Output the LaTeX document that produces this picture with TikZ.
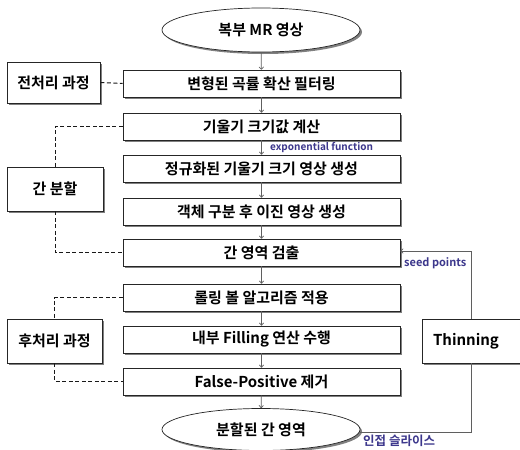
\documentclass[tikz,border=0pt]{standalone}
\usepackage{fontspec}
\setmainfont{Noto Sans CJK KR}[BoldFont={Noto Sans CJK KR Bold}]
\usetikzlibrary{shapes.geometric,shadows,arrows.meta}
\definecolor{lbl}{RGB}{60,55,140}
\definecolor{arr}{RGB}{95,95,95}
\tikzset{
  mainbox/.style={draw=black!85, line width=0.7pt, fill=white, minimum width=277pt, minimum height=27pt, inner sep=0pt,
    font=\bfseries\fontsize{15}{16}\selectfont,
    drop shadow={shadow xshift=2pt, shadow yshift=-2pt, fill=black!50, opacity=1}},
  sidebox/.style={mainbox, minimum height=44pt},
  oval/.style={ellipse, draw=black!85, line width=0.7pt, fill=white, inner sep=0pt, minimum width=198pt, minimum height=44pt,
    font=\bfseries\fontsize{15}{16}\selectfont,
    drop shadow={shadow xshift=2pt, shadow yshift=-2pt, fill=black!50, opacity=1}},
  flow/.style={draw=arr, line width=0.7pt, -{To[length=3pt,width=5pt]}},
  plain/.style={draw=arr, line width=0.7pt},
  dashline/.style={draw=black!90, line width=1pt, dash pattern=on 4pt off 2.5pt},
  lab/.style={text=lbl, font=\bfseries\fontsize{10}{11}\selectfont, inner sep=0pt}
}
\begin{document}
\begin{tikzpicture}[x=1pt,y=-1pt]
\clip (0,0) rectangle (520,450);
\fill[white] (0,0) rectangle (520,450);
% main column
\node[oval] (start) at (261,30) {복부 MR 영상};
\node[mainbox] (b1) at (261.5,83.5) {변형된 곡률 확산 필터링};
\node[mainbox] (b2) at (261.5,126.5) {기울기 크기값 계산};
\node[mainbox] (b3) at (261.5,168.5) {정규화된 기울기 크기 영상 생성};
\node[mainbox] (b4) at (261.5,211.5) {객체 구분 후 이진 영상 생성};
\node[mainbox] (b5) at (261.5,252.5) {간 영역 검출};
\node[mainbox] (b6) at (261.5,297.5) {롤링 볼 알고리즘 적용};
\node[mainbox] (b7) at (261.5,339.5) {내부 Filling 연산 수행};
\node[mainbox] (b8) at (261.5,381.5) {False-Positive 제거};
\node[oval, minimum height=42pt] (end) at (261,429.5) {분할된 간 영역};
% side boxes
\node[sidebox, minimum width=93pt, minimum height=41pt] (pre) at (53.5,82.5) {전처리 과정};
\node[sidebox, minimum width=96pt] (seg) at (55,189) {간 분할};
\node[sidebox, minimum width=95pt] (post) at (54.5,341) {후처리 과정};
\node[sidebox, minimum width=110pt] (thin) at (477,341) {};
\node[font=\bfseries\fontsize{15}{16}\selectfont] (thintext) at (466,341) {Thinning};
% flow arrows
\draw[flow] (start) -- (b1);
\draw[flow] (b1) -- (b2);
\draw[flow] (b2) -- (b3);
\draw[flow] (b3) -- (b4);
\draw[flow] (b4) -- (b5);
\draw[flow] (b5) -- (b6);
\draw[flow] (b6) -- (b7);
\draw[flow] (b7) -- (b8);
\draw[flow] (b8) -- (end);
% dashed groupings
\draw[dashline] (pre.east) -- (b1.west);
\draw[dashline] (b2.west) -| (seg.north);
\draw[dashline] (seg.south) |- (b5.west);
\draw[dashline] (b6.west) -| (post.north);
\draw[dashline] (post.south) |- (b8.west);
% feedback loop
\coordinate (seedc) at (471,251);
\coordinate (endc) at (471,432);
\draw[plain] (end.east |- endc) -- (endc) -- (thin.south -| endc);
\draw[flow] (thin.north -| seedc) -- (seedc) -- (b5.east |- seedc);
% labels
\node[lab, anchor=west] (expl) at (270,148) {exponential function};
\node[lab, anchor=west, font=\bfseries\fontsize{11}{12}\selectfont] (seedl) at (404,263) {seed points};
\node[lab, anchor=west, font=\bfseries\fontsize{12.5}{13}\selectfont] (adjl) at (363,441) {인접 슬라이스};
\end{tikzpicture}
\end{document}
